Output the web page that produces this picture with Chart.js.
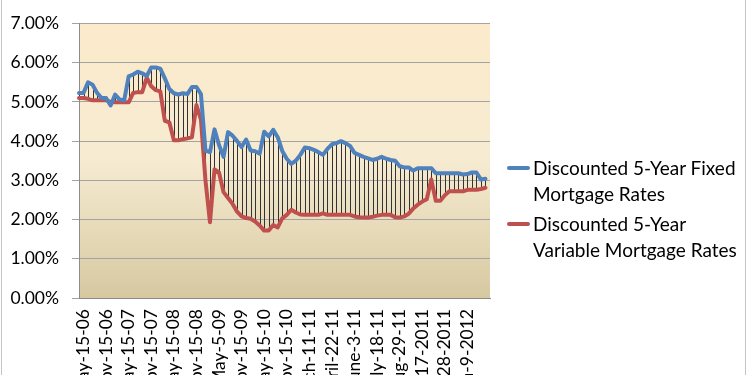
<!DOCTYPE html>
<html>
<head>
<meta charset="utf-8">
<script src="https://cdn.jsdelivr.net/npm/chart.js@4.4.1/dist/chart.umd.min.js"></script>
<style>
  html, body { margin: 0; padding: 0; background: #fff; overflow: hidden; }
  #wrap { position: relative; width: 750px; height: 375px; }
  #legend {
    position: absolute; left: 505px; top: 155px; width: 243px;
    font-family: Lato, sans-serif; font-size: 19px; line-height: 26px; color: #000;
  }
  .item { position: relative; padding-left: 28px; margin-bottom: 4px; }
  .swatch { position: absolute; left: 2px; top: 11px; width: 23px; height: 4px; border-radius: 2px; }
</style>
</head>
<body>
<div id="wrap">
  <canvas id="chart" width="750" height="375"></canvas>
  <div id="legend"></div>
</div>
<script>
// Tick labels shown on the category axis (one every 5 points, starting at point 1)
const dateLabels = ['May-15-06', 'Nov-15-06', 'May-15-07', 'Nov-15-07', 'May-15-08', 'Nov-15-08',
  'May-5-09', 'Nov-15-09', 'May-15-10', 'Nov-15-10', 'March-11-11', 'April-22-11',
  'June-3-11', 'July-18-11', 'Aug-29-11', 'Oct-17-2011', 'Nov-28-2011', 'Jan-9-2012'];
const labelStep = 5;
const labelStart = 1;

// Rates in percent
const fixedRates = [
  5.23, 5.23, 5.50, 5.44, 5.23, 5.10, 5.10, 4.91, 5.19, 5.06,
  5.04, 5.65, 5.70, 5.77, 5.73, 5.66, 5.88, 5.88, 5.85, 5.60,
  5.33, 5.22, 5.19, 5.22, 5.20, 5.38, 5.38, 5.20, 3.76, 3.72,
  4.30, 3.90, 3.60, 4.23, 4.14, 4.00, 3.85, 4.04, 3.76, 3.74,
  3.68, 4.24, 4.12, 4.29, 4.10, 3.75, 3.55, 3.42, 3.50, 3.65,
  3.84, 3.82, 3.78, 3.72, 3.65, 3.80, 3.92, 3.95, 4.00, 3.95,
  3.88, 3.70, 3.65, 3.60, 3.56, 3.52, 3.55, 3.60, 3.55, 3.52,
  3.50, 3.36, 3.33, 3.33, 3.25, 3.31, 3.31, 3.31, 3.31, 3.18,
  3.18, 3.18, 3.18, 3.18, 3.18, 3.15, 3.16, 3.20, 3.20, 3.02,
  3.04, 3.12
];
const variableRates = [
  5.10, 5.10, 5.08, 5.04, 5.04, 5.04, 5.04, 5.00, 4.99, 4.99,
  4.99, 4.99, 5.23, 5.25, 5.25, 5.62, 5.40, 5.30, 5.27, 4.52,
  4.48, 4.02, 4.02, 4.05, 4.07, 4.10, 4.92, 4.55, 3.00, 1.93,
  3.28, 3.20, 2.70, 2.55, 2.40, 2.20, 2.08, 2.04, 2.02, 1.95,
  1.85, 1.72, 1.72, 1.86, 1.80, 2.03, 2.12, 2.25, 2.18, 2.13,
  2.12, 2.12, 2.12, 2.12, 2.16, 2.12, 2.12, 2.12, 2.12, 2.12,
  2.12, 2.08, 2.06, 2.05, 2.05, 2.07, 2.10, 2.12, 2.12, 2.12,
  2.06, 2.05, 2.08, 2.15, 2.28, 2.38, 2.46, 2.52, 3.02, 2.48,
  2.48, 2.62, 2.72, 2.72, 2.72, 2.72, 2.76, 2.76, 2.76, 2.78,
  2.81, 2.81
];

const seriesNames = ['Discounted 5-Year Fixed Mortgage Rates', 'Discounted 5-Year Variable Mortgage Rates'];
const seriesColors = ['#4F81BD', '#C0504D'];

// Category labels: only every 5th point carries a date
const categories = fixedRates.map((v, i) =>
  (i - labelStart) % labelStep === 0 ? dateLabels[(i - labelStart) / labelStep] : '');

// Plot area gradient fill
const plotBackground = {
  id: 'plotBackground',
  beforeDraw(chart) {
    const { ctx, chartArea: a } = chart;
    const g = ctx.createLinearGradient(0, a.top, 0, a.bottom);
    g.addColorStop(0, '#FCEACB');
    g.addColorStop(0.5, '#F6EBD1');
    g.addColorStop(1, '#D6C9A1');
    ctx.save();
    ctx.fillStyle = g;
    ctx.fillRect(a.left, a.top, a.right - a.left, a.bottom - a.top);
    ctx.restore();
  }
};

// High-low lines between the two series
const dropLines = {
  id: 'dropLines',
  beforeDatasetsDraw(chart) {
    const { ctx } = chart;
    const hi = chart.getDatasetMeta(0).data;
    const lo = chart.getDatasetMeta(1).data;
    ctx.save();
    ctx.strokeStyle = '#333';
    ctx.lineWidth = 1;
    ctx.beginPath();
    hi.forEach((p, i) => {
      const x = Math.round(p.x) + 0.5;
      ctx.moveTo(x, p.y);
      ctx.lineTo(x, lo[i].y);
    });
    ctx.stroke();
    ctx.restore();
  }
};

// Outer chart frame (only the sides are visible in the crop)
const frame = {
  id: 'frame',
  afterDraw(chart) {
    const { ctx, width } = chart;
    ctx.save();
    ctx.strokeStyle = '#C4C4C4';
    ctx.lineWidth = 1;
    ctx.beginPath();
    ctx.moveTo(1.5, 0); ctx.lineTo(1.5, 375);
    ctx.moveTo(width - 4.5, 0); ctx.lineTo(width - 4.5, 375);
    ctx.stroke();
    ctx.restore();
  }
};

Chart.defaults.font.family = 'Lato, sans-serif';
Chart.defaults.font.size = 17.5;
Chart.defaults.color = '#000';

const chart = new Chart(document.getElementById('chart').getContext('2d'), {
  type: 'line',
  data: {
    labels: categories,
    datasets: seriesNames.map((name, k) => ({
      label: name,
      data: k === 0 ? fixedRates : variableRates,
      borderColor: seriesColors[k],
      backgroundColor: seriesColors[k],
      borderWidth: 4,
      pointRadius: 0,
      tension: 0,
      borderJoinStyle: 'round',
      borderCapStyle: 'round'
    }))
  },
  options: {
    responsive: false,
    animation: false,
    devicePixelRatio: 1,
    layout: { padding: { top: 20, right: 260, left: 0, bottom: 0 } },
    plugins: { legend: { display: false }, tooltip: { enabled: false } },
    scales: {
      x: {
        grid: { drawOnChartArea: false, drawTicks: false },
        border: { color: '#8C8C8C' },
        ticks: {
          autoSkip: false, minRotation: 90, maxRotation: 90, padding: 11,
          callback: (v, i) => categories[i]
        },
        afterFit: s => { s.height = 77; }
      },
      y: {
        min: 0, max: 7,
        ticks: { stepSize: 1, padding: 13, callback: v => v.toFixed(2) + '%' },
        grid: { color: '#A3A3A3', tickLength: 7 },
        border: { color: '#8C8C8C' },
        afterFit: s => { s.width = 79; }
      }
    }
  },
  plugins: [plotBackground, dropLines, frame]
});

// HTML legend built from the datasets
document.getElementById('legend').innerHTML = chart.data.datasets.map(ds => `
  <div class="item">
    <span class="swatch" style="background:${ds.borderColor}"></span>${ds.label}
  </div>`).join('');
</script>
</body>
</html>
